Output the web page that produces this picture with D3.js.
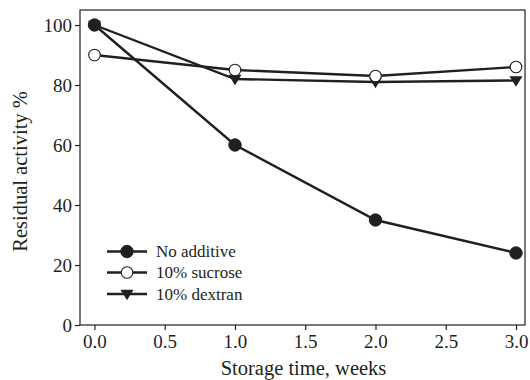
<!DOCTYPE html>
<html>
<head>
<meta charset="utf-8">
<script src="https://cdn.jsdelivr.net/npm/d3@7"></script>
<style>
body { margin: 0; background: #fff; }
svg { display: block; }
text { font-family: "Liberation Serif", "Times New Roman", serif; fill: #231f20; }
</style>
</head>
<body>
<svg id="chart" width="530" height="380"></svg>
<script>
const weeks = [0, 1, 2, 3];
const noAdditive = [100, 60, 35, 24];
const sucrose = [90, 85, 83, 86];
const dextran = [100, 82, 81, 81.5];
const xTicks = [0, 0.5, 1, 1.5, 2, 2.5, 3];
const yTicks = [0, 20, 40, 60, 80, 100];
const seriesNames = ["No additive", "10% sucrose", "10% dextran"];

(function () {
const ink = "#231f20";
const svg = d3.select("#chart");
const pL = 80, pR = 525, pT = 10, pB = 325;

const x = d3.scaleLinear().domain([-0.103, 3.064]).range([pL, pR]);
const y = d3.scaleLinear().domain([0, 100]).range([pB, pB - 300]);

svg.append("rect").attr("x", pL).attr("y", pT).attr("width", pR - pL).attr("height", pB - pT)
  .attr("fill", "none").attr("stroke", ink).attr("stroke-width", 1.2);

const xAxis = svg.append("g").attr("transform", `translate(0,${pB})`)
  .call(d3.axisBottom(x).tickValues(xTicks).tickFormat(d3.format(".1f")).tickSize(5).tickPadding(5));
const yAxis = svg.append("g").attr("transform", `translate(${pL},0)`)
  .call(d3.axisLeft(y).tickValues(yTicks).tickSize(5).tickPadding(3));
[xAxis, yAxis].forEach(a => {
  a.select(".domain").remove();
  a.selectAll("line").attr("stroke", ink).attr("stroke-width", 1.2);
  a.selectAll("text").attr("font-size", 19).attr("font-family", "Liberation Serif").attr("fill", ink);
});

svg.append("text").attr("x", (pL + pR) / 2 + 1).attr("y", 374.5).attr("text-anchor", "middle")
  .attr("font-size", 20.5).text("Storage time, weeks");
svg.append("text").attr("transform", `translate(27,${(pT + pB) / 2 + 4}) rotate(-90)`)
  .attr("text-anchor", "middle").attr("font-size", 20.5).text("Residual activity %");

const line = d3.line().x((d, i) => x(weeks[i])).y(d => y(d));
const series = [
  { name: seriesNames[0], values: noAdditive, marker: "filledCircle" },
  { name: seriesNames[1], values: sucrose, marker: "openCircle" },
  { name: seriesNames[2], values: dextran, marker: "triangle" }
];

function drawMarker(g, type, cx, cy) {
  if (type === "filledCircle") {
    g.append("circle").attr("cx", cx).attr("cy", cy).attr("r", 6.2).attr("fill", ink).attr("stroke", ink);
  } else if (type === "openCircle") {
    g.append("circle").attr("cx", cx).attr("cy", cy).attr("r", 5.8).attr("fill", "#fff").attr("stroke", ink).attr("stroke-width", 1.1);
  } else {
    const s = 6.5;
    g.append("path").attr("d", `M${cx - s},${cy - s * 0.65} L${cx + s},${cy - s * 0.65} L${cx},${cy + s * 0.95} Z`)
      .attr("fill", ink);
  }
}

const order = [2, 1, 0];
order.forEach(k => {
  const s = series[k];
  svg.append("path").datum(s.values).attr("d", line).attr("fill", "none")
    .attr("stroke", ink).attr("stroke-width", 2.4);
});
order.forEach(k => {
  const s = series[k];
  const g = svg.append("g");
  s.values.forEach((v, i) => drawMarker(g, s.marker, x(weeks[i]), y(v)));
});

const legY = [251.5, 272.5, 294];
series.forEach((s, i) => {
  const g = svg.append("g");
  g.append("line").attr("x1", 107).attr("x2", 147).attr("y1", legY[i]).attr("y2", legY[i])
    .attr("stroke", ink).attr("stroke-width", 2.4);
  drawMarker(g, s.marker, 127, legY[i]);
  g.append("text").attr("x", 156).attr("y", legY[i] + 5.5).attr("font-size", 17).text(s.name);
});
})();
</script>
</body>
</html>
